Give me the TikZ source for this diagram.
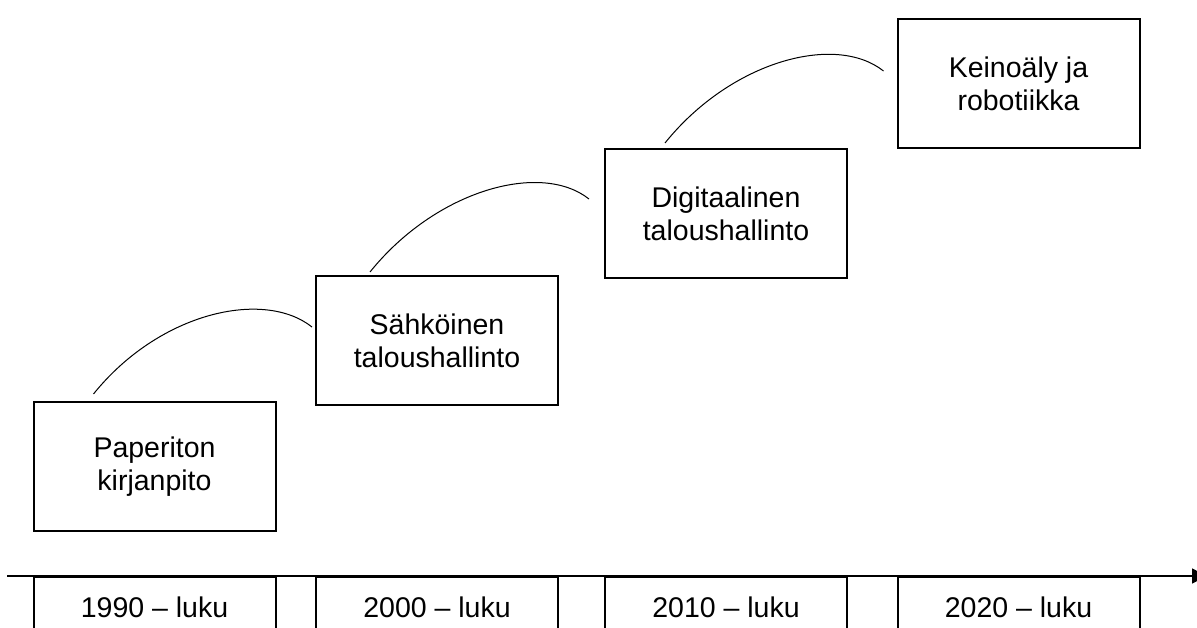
\documentclass[tikz,border=0pt]{standalone}
\usepackage{fontspec}
\setmainfont{Liberation Sans}
\usepackage{tikz}
\usetikzlibrary{calc,arrows.meta}
\tikzstyle{steps}=[
  x=1pt,y=-1pt,font=\fontsize{28.5}{33}\selectfont
]
\tikzstyle{stage}=[
  draw,rectangle,line width=2pt,align=center,minimum width=242pt,minimum height=129pt,inner sep=0pt
]
\tikzstyle{decade}=[
  draw,rectangle,line width=2pt,minimum width=242pt,minimum height=60pt,inner sep=0pt
]
\tikzstyle{link}=[
  line width=1pt
]
\tikzstyle{timeline}=[
  line width=1.3pt,-{Triangle[length=15pt,width=15pt]}
]

\begin{document}
\begin{tikzpicture}[steps]
      \useasboundingbox (0,0) rectangle (1197,628);
      \clip (0,0) rectangle (1197,628);
      \node (paper) at (154.5,466.5) [stage] {Paperiton\\kirjanpito};
      \node (sahko) at ($(paper) + (282.5,-126)$) [stage] {Sähköinen\\taloushallinto};
      \node (digi) at ($(sahko) + (289,-127)$) [stage] {Digitaalinen\\taloushallinto};
      \node (robo) at ($(digi) + (292.5,-129.5)$) [stage] {Keinoäly ja\\robotiikka};
      % decades under the axis
      \node (d1990) at (paper |- 0,607) [decade] {1990 – luku};
      \node (d2000) at (sahko |- 0,607) [decade] {2000 – luku};
      \node (d2010) at (digi |- 0,607) [decade] {2010 – luku};
      \node (d2020) at (robo |- 0,607) [decade] {2020 – luku};
      \coordinate (axisstart) at (7,576);
      \coordinate (axisend) at (1207,576);
      \draw [timeline] (axisstart) -- (axisend);
      \draw [link] ($(paper.north west) + (61,-7)$) .. controls +(66,-82) and +(-48,-38) .. ($(sahko.west) + (-3,-13.5)$);
      \draw [link] ($(sahko.north west) + (55,-3)$) .. controls +(66,-82) and +(-48,-38) .. ($(digi.west) + (-15,-14.5)$);
      \draw [link] ($(digi.north west) + (61,-5)$) .. controls +(66,-82) and +(-48,-38) .. ($(robo.west) + (-13,-13)$);
\end{tikzpicture}
\end{document}
